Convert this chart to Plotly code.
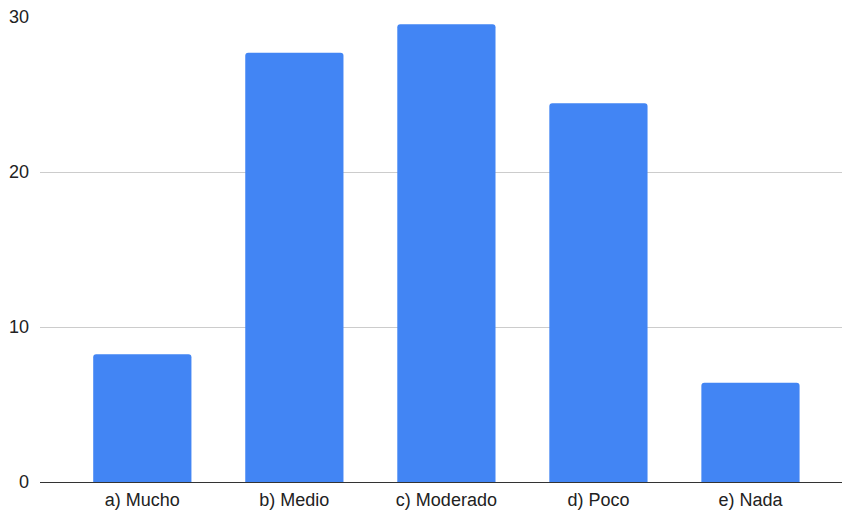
import plotly.graph_objects as go

categories = ["a) Mucho", "b) Medio", "c) Moderado", "d) Poco", "e) Nada"]
values = [8.24, 27.7, 29.53, 24.43, 6.41]
y_ticks = [0, 10, 20, 30]

fig = go.Figure(go.Bar(
    x=categories,
    y=values,
    marker=dict(color="#4285F4", cornerradius=3, line=dict(width=0)),
    width=0.646,
))

fig.update_layout(
    width=842, height=513,
    margin=dict(l=40, r=0, t=17, b=31),
    paper_bgcolor="white", plot_bgcolor="white",
    font=dict(family="Liberation Sans, Arial, sans-serif", size=18, color="#222222"),
    showlegend=False,
)
fig.update_xaxes(
    type="category",
    range=[-0.673, 4.602],
    showgrid=False, zeroline=False, showline=False,
    ticks="", ticklabelstandoff=5,
    tickfont=dict(size=18, color="#222222"),
)
fig.update_yaxes(
    range=[0, 30],
    tickvals=y_ticks,
    showgrid=True, gridcolor="#cccccc", gridwidth=1,
    zeroline=True, zerolinecolor="#333333", zerolinewidth=1.3,
    showline=False, ticks="", ticklabelstandoff=10,
    tickfont=dict(size=18, color="#222222"),
)

fig.write_html(
    "out.html",
    config={"displayModeBar": False},
    post_script="document.body.style.margin='0';document.body.style.overflow='hidden';",
)
